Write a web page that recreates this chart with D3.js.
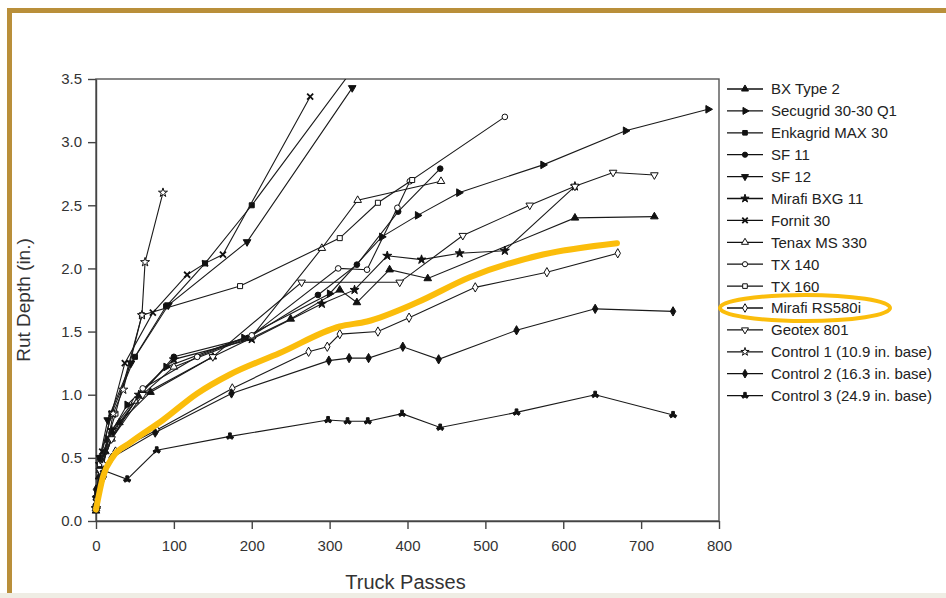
<!DOCTYPE html>
<html>
<head>
<meta charset="utf-8">
<script src="https://cdn.jsdelivr.net/npm/d3@7"></script>
<style>
  body { margin: 0; background: #fff; }
  svg { display: block; font-family: "Liberation Sans", Arial, sans-serif; }
  .axis text { font-size: 15px; fill: #333; }
  .axis path, .axis line { stroke: #444; stroke-width: 1.4; }
  .series path.line { fill: none; stroke: #1a1a1a; stroke-width: 1.1; }
  .legend text { font-size: 15px; fill: #222; }
</style>
</head>
<body>
<svg class="canvas" width="946" height="598"></svg>
<script>
// series data: [truck passes, rut depth (in.)]
var bxType2   = [[0,0.08],[4,0.35],[12,0.55],[30,0.78],[70,1.02],[150,1.3],[250,1.6],[313,1.83],[335,1.73],[377,1.99],[426,1.92],[615,2.40],[717,2.41]];
var secugrid  = [[0,0.1],[5,0.42],[15,0.65],[40,0.92],[90,1.22],[190,1.45],[300,1.8],[367,2.25],[413,2.42],[466,2.60],[574,2.82],[680,3.09],[786,3.26]];
var enkagrid  = [[0,0.12],[5,0.5],[20,0.85],[50,1.3],[90,1.7],[140,2.04],[200,2.5],[335,3.62]];
var sf11      = [[0,0.1],[5,0.45],[20,0.7],[60,1.02],[100,1.3],[195,1.45],[285,1.79],[335,2.03],[388,2.45],[442,2.79]];
var sf12      = [[0,0.1],[5,0.5],[15,0.8],[45,1.25],[93,1.71],[194,2.21],[329,3.43]];
var mirafiBxg = [[0,0.1],[5,0.45],[20,0.72],[55,1.0],[100,1.28],[200,1.44],[290,1.72],[332,1.83],[374,2.10],[418,2.07],[467,2.12],[525,2.14],[615,2.65]];
var fornit    = [[0,0.15],[8,0.55],[20,0.85],[37,1.25],[73,1.65],[117,1.95],[140,2.04],[163,2.11],[275,3.36]];
var tenax     = [[0,0.1],[5,0.4],[20,0.65],[50,0.95],[100,1.22],[200,1.46],[290,2.16],[336,2.54],[443,2.69]];
var tx140     = [[0,0.1],[5,0.4],[20,0.65],[60,1.05],[130,1.3],[200,1.47],[311,2.0],[348,1.99],[387,2.48],[403,2.69],[525,3.20]];
var tx160     = [[0,0.12],[5,0.45],[25,0.85],[59,1.63],[185,1.86],[313,2.24],[362,2.52],[406,2.70]];
var rs580i    = [[0,0.12],[10,0.35],[25,0.55],[78,0.72],[175,1.05],[273,1.34],[297,1.38],[313,1.48],[362,1.50],[402,1.61],[487,1.85],[579,1.97],[670,2.12]];
var geotex    = [[0,0.1],[5,0.4],[20,0.65],[60,1.0],[150,1.3],[264,1.89],[390,1.89],[471,2.26],[557,2.50],[615,2.65],[664,2.76],[717,2.74]];
var control1  = [[0,0.1],[10,0.45],[22,0.85],[35,1.04],[59,1.63],[63,2.05],[86,2.60]];
var control2  = [[0,0.25],[20,0.5],[76,0.70],[174,1.01],[299,1.27],[325,1.29],[350,1.29],[394,1.38],[440,1.28],[540,1.51],[641,1.68],[741,1.66]];
var control3  = [[0,0.2],[10,0.4],[40,0.33],[78,0.56],[172,0.67],[298,0.80],[323,0.79],[349,0.79],[393,0.85],[442,0.74],[540,0.86],[641,1.00],[741,0.84]];

// the hand drawn highlight trend
var highlight = [[0,0.09],[9,0.35],[22,0.51],[44,0.62],[86,0.80],[130,1.01],[172,1.16],[236,1.33],[313,1.54],[348,1.58],[412,1.73],[480,1.93],[574,2.11],[669,2.20]];

var seriesNames = ['BX Type 2', 'Secugrid 30-30 Q1', 'Enkagrid MAX 30', 'SF 11', 'SF 12', 'Mirafi BXG 11', 'Fornit 30',
    'Tenax MS 330', 'TX 140', 'TX 160', 'Mirafi RS580i', 'Geotex 801', 'Control 1 (10.9 in. base)',
    'Control 2 (16.3 in. base)', 'Control 3 (24.9 in. base)'];
var seriesValues = [bxType2, secugrid, enkagrid, sf11, sf12, mirafiBxg, fornit, tenax, tx140, tx160, rs580i, geotex, control1, control2, control3];
var xTicks = [0, 100, 200, 300, 400, 500, 600, 700, 800];
var yTicks = [0, 0.5, 1, 1.5, 2, 2.5, 3, 3.5];

// marker look for each series: [symbol, filled, rotation]
var markers = [
    [d3.symbolTriangle, true, 0], [d3.symbolTriangle, true, 90], [d3.symbolSquare, true, 0],
    [d3.symbolCircle, true, 0], [d3.symbolTriangle, true, 180], [d3.symbolStar, true, 0],
    ['x', true, 0], [d3.symbolTriangle, false, 0], [d3.symbolCircle, false, 0],
    [d3.symbolSquare, false, 0], [d3.symbolDiamond, false, 0], [d3.symbolTriangle, false, 180],
    [d3.symbolStar, false, 0], [d3.symbolDiamond, true, 0], [d3.symbolWye, true, 180]
];

var plot = {left: 96, top: 79, right: 719, bottom: 521};
var svg = d3.select('.canvas');

// slide frame
svg.append('rect').attr('x', 0).attr('y', 593).attr('width', 946).attr('height', 5).attr('fill', '#efede4');
svg.append('rect').attr('x', 7).attr('y', 8).attr('width', 946).attr('height', 5).attr('fill', '#b98f3a');
svg.append('rect').attr('x', 7).attr('y', 8).attr('width', 5).attr('height', 585).attr('fill', '#b98f3a');

var x = d3.scaleLinear().domain([0, 800]).range([plot.left, plot.right]);
var y = d3.scaleLinear().domain([0, 3.5]).range([plot.bottom, plot.top]);

svg.append('clipPath').attr('id', 'plotClip')
    .append('rect')
    .attr('x', plot.left - 6).attr('y', plot.top)
    .attr('width', plot.right - plot.left + 12).attr('height', plot.bottom - plot.top + 6);

// box around the plot
svg.append('rect')
    .attr('x', plot.left).attr('y', plot.top)
    .attr('width', plot.right - plot.left).attr('height', plot.bottom - plot.top)
    .attr('fill', 'none').attr('stroke', '#555').attr('stroke-width', 1.4);

svg.append('g')
    .classed('axis', true)
    .attr('transform', 'translate(0,' + plot.bottom + ')')
    .call(d3.axisBottom(x).tickValues(xTicks).tickSize(8).tickPadding(9).tickSizeOuter(0))
    .selectAll('text').attr('dy', '0.85em');

svg.append('g')
    .classed('axis', true)
    .attr('transform', 'translate(' + plot.left + ',0)')
    .call(d3.axisLeft(y).tickValues(yTicks).tickFormat(d3.format('.1f')).tickSize(8).tickPadding(6).tickSizeOuter(0));

svg.append('text')
    .attr('x', (plot.left + plot.right) / 2 - 2).attr('y', 589)
    .attr('text-anchor', 'middle').attr('font-size', 20).attr('fill', '#333')
    .text('Truck Passes');

svg.append('text')
    .attr('transform', 'translate(30,' + ((plot.top + plot.bottom) / 2) + ') rotate(-90)')
    .attr('text-anchor', 'middle').attr('font-size', 19).attr('fill', '#333')
    .text('Rut Depth (in.)');

function markerPath(m, size) {
    if (m[0] === 'x') {
        var r = size / 2;
        return 'M' + (-r) + ',' + (-r) + 'L' + r + ',' + r + 'M' + (-r) + ',' + r + 'L' + r + ',' + (-r);
    }
    return d3.symbol().type(m[0]).size(size * size * 0.7)();
}

function drawMarker(sel, m, size) {
    sel.append('path')
        .attr('d', markerPath(m, size))
        .attr('transform', function(d){ return 'translate(' + d[0] + ',' + d[1] + ') rotate(' + m[2] + ')'; })
        .attr('fill', m[0] === 'x' ? 'none' : (m[1] ? '#111' : '#fff'))
        .attr('stroke', '#111')
        .attr('stroke-width', m[0] === 'x' ? 1.8 : 1);
}

var line = d3.line().x(function(d){ return x(d[0]); }).y(function(d){ return y(d[1]); });
var chart = svg.append('g').attr('clip-path', 'url(#plotClip)');

seriesValues.forEach(function(values, i){
    var g = chart.append('g').classed('series', true);
    g.append('path').classed('line', true).attr('d', line(values));
    var pts = g.selectAll('g.pt')
        .data(values.map(function(d){ return [x(d[0]), y(d[1])]; }))
        .enter().append('g').classed('pt', true);
    drawMarker(pts, markers[i], 6);
});

// yellow highlight curve
svg.append('path')
    .attr('d', d3.line().curve(d3.curveMonotoneX)
        .x(function(d){ return x(d[0]); }).y(function(d){ return y(d[1]); })(highlight))
    .attr('fill', 'none').attr('stroke', '#fbbd0b').attr('stroke-width', 6).attr('stroke-linecap', 'round');

// legend
var legend = svg.append('g').classed('legend', true);
seriesNames.forEach(function(name, i){
    var ly = 89 + i * 21.9;
    var row = legend.append('g');
    row.append('line').attr('x1', 727).attr('x2', 763).attr('y1', ly).attr('y2', ly)
        .attr('stroke', '#111').attr('stroke-width', 1.3);
    drawMarker(row.selectAll('g.pt').data([[745, ly]]).enter().append('g').classed('pt', true), markers[i], 5.5);
    row.append('text').attr('x', 771).attr('y', ly).attr('dy', '0.36em').text(name);
});

// highlight ellipse round Mirafi RS580i
svg.append('ellipse')
    .attr('cx', 805).attr('cy', 89 + 10 * 21.9)
    .attr('rx', 85).attr('ry', 13)
    .attr('fill', 'none').attr('stroke', '#fbbd0b').attr('stroke-width', 4);
</script>
</body>
</html>
